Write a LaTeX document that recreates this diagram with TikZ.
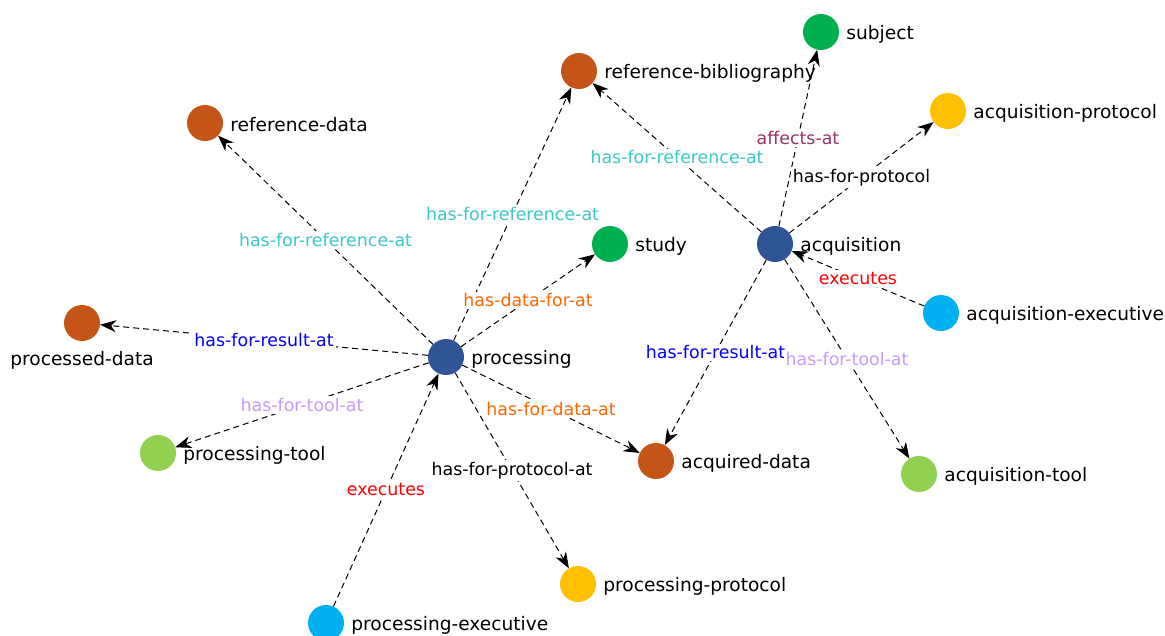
\documentclass[tikz,border=0pt]{standalone}
\usepackage{fontspec}
\setmainfont{DejaVu Sans}
\usetikzlibrary{arrows.meta}
\definecolor{cbrown}{HTML}{C55417}
\definecolor{cdblue}{HTML}{2F5597}
\definecolor{cgreen}{HTML}{00B050}
\definecolor{cyellow}{HTML}{FFC000}
\definecolor{ccyan}{HTML}{00B0F0}
\definecolor{clgreen}{HTML}{92D050}
\definecolor{lcyan}{HTML}{3CC8C8}
\definecolor{lorange}{HTML}{FF6600}
\definecolor{lblue}{HTML}{0000FF}
\definecolor{lpurple}{HTML}{C89BFF}
\definecolor{lred}{HTML}{FF0000}
\definecolor{lmaroon}{HTML}{993366}
\begin{document}
\begin{tikzpicture}[x=1pt,y=-1pt,
  ent/.style={circle,minimum size=36pt,inner sep=0pt},
  lbl/.style={font=\fontsize{18.6}{21}\selectfont,text=black,inner sep=0pt,xshift=7pt,yshift=-2pt},
  lblb/.style={font=\fontsize{18.6}{21}\selectfont,text=black,inner sep=0pt,yshift=-10pt},
  rel/.style={draw=black,line width=1pt,dash pattern=on 6pt off 4pt,-{Stealth[length=16pt,width=12pt,inset=5pt]}},
  elab/.style={fill=white,inner sep=2pt,font=\fontsize{17.4}{19}\selectfont}]
\useasboundingbox (0,0) rectangle (1165,635);
% entities
\node[ent,fill=cgreen,label={[lbl,name=subject-t]0:subject}] (subject) at (821,32) {};
\node[ent,fill=cbrown,label={[lbl,name=refbib-t]0:reference-bibliography}] (refbib) at (579,71) {};
\node[ent,fill=cyellow,label={[lbl,name=acqprot-t]0:acquisition-protocol}] (acqprot) at (948,111) {};
\node[ent,fill=cbrown,label={[lbl,name=refdata-t]0:reference-data}] (refdata) at (205,123) {};
\node[ent,fill=cdblue,label={[lbl,name=acq-t]0:acquisition}] (acq) at (775,244) {};
\node[ent,fill=cgreen,label={[lbl,name=study-t]0:study}] (study) at (610,244) {};
\node[ent,fill=ccyan,label={[lbl,name=acqexec-t]0:acquisition-executive}] (acqexec) at (941,313) {};
\node[ent,fill=cbrown,label={[lblb,name=procdata-t]-90:processed-data}] (procdata) at (82,323) {};
\node[ent,fill=cdblue,label={[lbl,name=proc-t]0:processing}] (proc) at (446,357) {};
\node[ent,fill=clgreen,label={[lbl,name=proctool-t]0:processing-tool}] (proctool) at (158,453) {};
\node[ent,fill=cbrown,label={[lbl,name=acqdata-t]0:acquired-data}] (acqdata) at (656,461) {};
\node[ent,fill=clgreen,label={[lbl,name=acqtool-t]0:acquisition-tool}] (acqtool) at (919,474) {};
\node[ent,fill=cyellow,label={[lbl,name=procprot-t]0:processing-protocol}] (procprot) at (578,584) {};
\node[ent,fill=ccyan,label={[lbl,name=procexec-t]0:processing-executive}] (procexec) at (326,623) {};
% relations
\draw[rel] (proc) -- node[elab,text=lcyan]{has-for-reference-at} (refdata);
\draw[rel] (proc) -- node[elab,text=lcyan]{has-for-reference-at} (refbib);
\draw[rel] (proc) -- node[elab,text=lorange]{has-data-for-at} (study);
\draw[rel] (proc) -- node[elab,text=lblue]{has-for-result-at} (procdata);
\draw[rel] (proc) -- node[elab,text=lpurple]{has-for-tool-at} (proctool);
\draw[rel] (proc) -- node[elab,text=lorange]{has-for-data-at} (acqdata);
\draw[rel] (proc) -- node[elab,text=black]{has-for-protocol-at} (procprot);
\draw[rel] (procexec) -- node[elab,text=lred]{executes} (proc);
\draw[rel] (acq) -- node[elab,text=lcyan]{has-for-reference-at} (refbib);
\draw[rel] (acq) -- node[elab,text=lmaroon]{affects-at} (subject);
\draw[rel] (acq) -- node[elab,text=black]{has-for-protocol} (acqprot);
\draw[rel] (acqexec) -- node[elab,text=lred]{executes} (acq);
\draw[rel] (acq) -- node[elab,text=lblue]{has-for-result-at} (acqdata);
\draw[rel] (acq) -- node[elab,text=lpurple]{has-for-tool-at} (acqtool);
\end{tikzpicture}
\end{document}
